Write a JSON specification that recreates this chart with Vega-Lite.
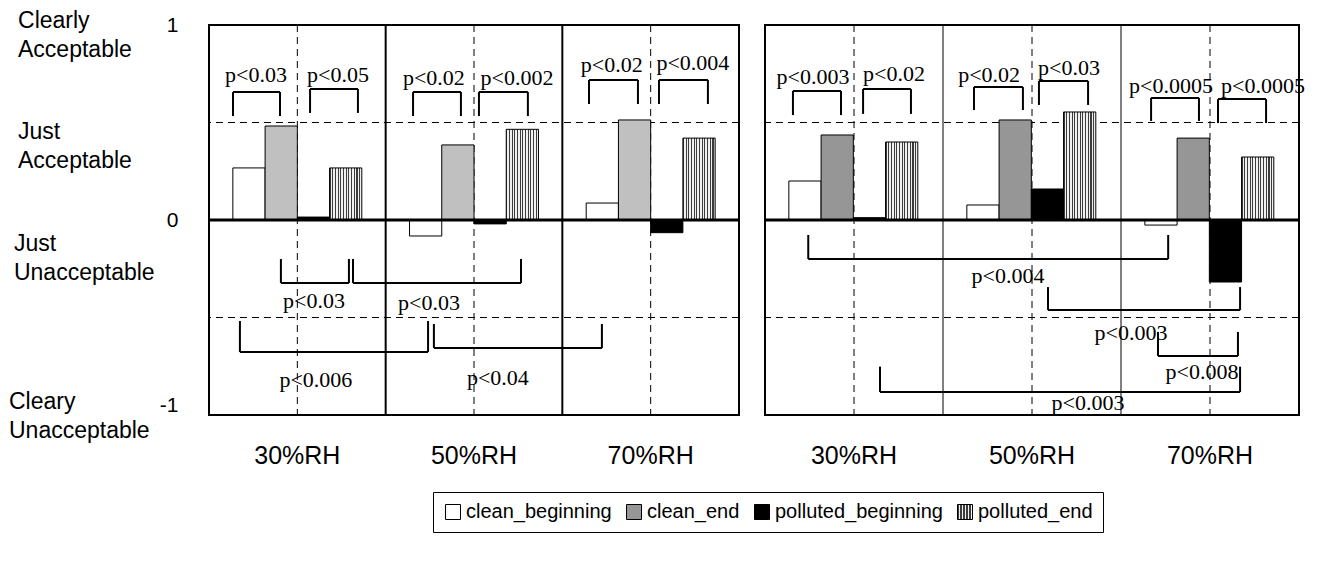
{
  "$schema": "https://vega.github.io/schema/vega-lite/v6.json",
  "background": "white",
  "padding": {"left": 8, "top": 8, "right": 5, "bottom": 5},
  "autosize": {"type": "pad"},
  "config": {
    "view": {"stroke": "black", "strokeWidth": 2},
    "font": "Liberation Sans",
    "axis": {"labelColor": "black"}
  },
  "datasets": {
    "bars": [
      {"panel": "left", "group": "30%RH", "series": "clean_beginning", "value": 0.267},
      {"panel": "left", "group": "30%RH", "series": "clean_end", "value": 0.482},
      {"panel": "left", "group": "30%RH", "series": "polluted_beginning", "value": 0.015},
      {"panel": "left", "group": "30%RH", "series": "polluted_end", "value": 0.267},
      {"panel": "left", "group": "50%RH", "series": "clean_beginning", "value": -0.082},
      {"panel": "left", "group": "50%RH", "series": "clean_end", "value": 0.385},
      {"panel": "left", "group": "50%RH", "series": "polluted_beginning", "value": -0.02},
      {"panel": "left", "group": "50%RH", "series": "polluted_end", "value": 0.465},
      {"panel": "left", "group": "70%RH", "series": "clean_beginning", "value": 0.087},
      {"panel": "left", "group": "70%RH", "series": "clean_end", "value": 0.513},
      {"panel": "left", "group": "70%RH", "series": "polluted_beginning", "value": -0.065},
      {"panel": "left", "group": "70%RH", "series": "polluted_end", "value": 0.42},
      {"panel": "right", "group": "30%RH", "series": "clean_beginning", "value": 0.2},
      {"panel": "right", "group": "30%RH", "series": "clean_end", "value": 0.436},
      {"panel": "right", "group": "30%RH", "series": "polluted_beginning", "value": 0.012},
      {"panel": "right", "group": "30%RH", "series": "polluted_end", "value": 0.4},
      {"panel": "right", "group": "50%RH", "series": "clean_beginning", "value": 0.077},
      {"panel": "right", "group": "50%RH", "series": "clean_end", "value": 0.513},
      {"panel": "right", "group": "50%RH", "series": "polluted_beginning", "value": 0.159},
      {"panel": "right", "group": "50%RH", "series": "polluted_end", "value": 0.554},
      {"panel": "right", "group": "70%RH", "series": "clean_beginning", "value": -0.026},
      {"panel": "right", "group": "70%RH", "series": "clean_end", "value": 0.42},
      {"panel": "right", "group": "70%RH", "series": "polluted_beginning", "value": -0.318},
      {"panel": "right", "group": "70%RH", "series": "polluted_end", "value": 0.323}
    ],
    "brackets": [
      {"panel": "left", "x1": 0.136, "x2": 0.402, "yh": 0.656, "ye": 0.533},
      {"panel": "left", "x1": 0.572, "x2": 0.843, "yh": 0.672, "ye": 0.549},
      {"panel": "left", "x1": 1.155, "x2": 1.426, "yh": 0.656, "ye": 0.533},
      {"panel": "left", "x1": 1.528, "x2": 1.805, "yh": 0.656, "ye": 0.533},
      {"panel": "left", "x1": 2.151, "x2": 2.428, "yh": 0.718, "ye": 0.595},
      {"panel": "left", "x1": 2.547, "x2": 2.824, "yh": 0.718, "ye": 0.595},
      {"panel": "left", "x1": 0.407, "x2": 0.792, "yh": -0.323, "ye": -0.2},
      {"panel": "left", "x1": 0.815, "x2": 1.766, "yh": -0.323, "ye": -0.2},
      {"panel": "left", "x1": 0.175, "x2": 1.24, "yh": -0.677, "ye": -0.518},
      {"panel": "left", "x1": 1.273, "x2": 2.224, "yh": -0.656, "ye": -0.533},
      {"panel": "right", "x1": 0.157, "x2": 0.427, "yh": 0.662, "ye": 0.538},
      {"panel": "right", "x1": 0.551, "x2": 0.82, "yh": 0.672, "ye": 0.544},
      {"panel": "right", "x1": 1.174, "x2": 1.449, "yh": 0.682, "ye": 0.564},
      {"panel": "right", "x1": 1.539, "x2": 1.815, "yh": 0.713, "ye": 0.59},
      {"panel": "right", "x1": 2.169, "x2": 2.438, "yh": 0.626, "ye": 0.508},
      {"panel": "right", "x1": 2.545, "x2": 2.815, "yh": 0.62, "ye": 0.497},
      {"panel": "right", "x1": 0.243, "x2": 2.265, "yh": -0.2, "ye": -0.077},
      {"panel": "right", "x1": 1.59, "x2": 2.669, "yh": -0.462, "ye": -0.344},
      {"panel": "right", "x1": 2.208, "x2": 2.657, "yh": -0.697, "ye": -0.574},
      {"panel": "right", "x1": 0.646, "x2": 2.669, "yh": -0.882, "ye": -0.752}
    ],
    "ptext": [
      {"panel": "left", "x": 0.266, "y": 0.744, "label": "p<0.03"},
      {"panel": "left", "x": 0.73, "y": 0.744, "label": "p<0.05"},
      {"panel": "left", "x": 1.273, "y": 0.728, "label": "p<0.02"},
      {"panel": "left", "x": 1.743, "y": 0.728, "label": "p<0.002"},
      {"panel": "left", "x": 2.28, "y": 0.795, "label": "p<0.02"},
      {"panel": "left", "x": 2.739, "y": 0.805, "label": "p<0.004"},
      {"panel": "left", "x": 0.594, "y": -0.415, "label": "p<0.03"},
      {"panel": "left", "x": 1.245, "y": -0.425, "label": "p<0.03"},
      {"panel": "left", "x": 0.605, "y": -0.82, "label": "p<0.006"},
      {"panel": "left", "x": 1.635, "y": -0.81, "label": "p<0.04"},
      {"panel": "right", "x": 0.27, "y": 0.733, "label": "p<0.003"},
      {"panel": "right", "x": 0.725, "y": 0.749, "label": "p<0.02"},
      {"panel": "right", "x": 1.259, "y": 0.744, "label": "p<0.02"},
      {"panel": "right", "x": 1.708, "y": 0.78, "label": "p<0.03"},
      {"panel": "right", "x": 2.281, "y": 0.687, "label": "p<0.0005"},
      {"panel": "right", "x": 2.798, "y": 0.687, "label": "p<0.0005"},
      {"panel": "right", "x": 1.365, "y": -0.287, "label": "p<0.004"},
      {"panel": "right", "x": 2.056, "y": -0.579, "label": "p<0.003"},
      {"panel": "right", "x": 2.455, "y": -0.779, "label": "p<0.008"},
      {"panel": "right", "x": 1.815, "y": -0.938, "label": "p<0.003"}
    ],
    "ylabels": [
      {"x": -1.081, "y": 1.021, "label": "Clearly\nAcceptable"},
      {"x": -1.081, "y": 0.451, "label": "Just\nAcceptable"},
      {"x": -1.104, "y": -0.123, "label": "Just\nUnacceptable"},
      {"x": -1.132, "y": -0.933, "label": "Cleary\nUnacceptable"}
    ]
  },
  "spacing": 20,
  "hconcat": [
    {
      "width": 530,
      "height": 390,
      "resolve": {"scale": {"x": "independent"}},
      "layer": [
        {
          "layer": [
            {
              "data": {"values": [{"v": 0.5}, {"v": 1.5}, {"v": 2.5}]},
              "mark": {"type": "rule", "stroke": "black", "strokeWidth": 1, "strokeDash": [7, 5]},
              "encoding": {"x": {"field": "v", "type": "quantitative", "scale": {"domain": [0, 3], "nice": false, "zero": false}, "axis": null, "title": null}}
            },
            {
              "data": {"values": [{"v": 1}, {"v": 2}]},
              "mark": {"type": "rule", "stroke": "black", "strokeWidth": 2},
              "encoding": {"x": {"field": "v", "type": "quantitative", "scale": {"domain": [0, 3], "nice": false, "zero": false}, "axis": null, "title": null}}
            },
            {
              "data": {"values": [{"v": 0.5}, {"v": -0.5}]},
              "mark": {"type": "rule", "stroke": "black", "strokeWidth": 1, "strokeDash": [7, 5]},
              "encoding": {"y": {"field": "v", "type": "quantitative", "scale": {"domain": [-1, 1], "nice": false, "zero": false}, "axis": {"values": [-1, 0, 1], "labelExpr": "'' + datum.value", "labelBaseline": {"condition": {"test": "datum.value == -1", "value": "bottom"}, "value": "middle"}, "labelFontSize": 21, "labelPadding": 31, "ticks": false, "tickSize": 0, "domain": false, "grid": false, "labelFont": "Liberation Sans", "labelColor": "black", "title": null}, "title": null}}
            }
          ]
        },
        {
          "data": {"name": "bars"},
          "transform": [{"filter": "datum.panel === 'left'"}],
          "mark": {"type": "bar", "stroke": "black", "strokeWidth": 1},
          "encoding": {
            "x": {"field": "group", "type": "nominal", "scale": {"paddingInner": 0, "paddingOuter": 0}, "axis": {"labelAngle": 0, "labelFontSize": 25, "labelPadding": 28, "ticks": false, "tickSize": 0, "domain": false, "grid": false, "labelColor": "black", "labelFont": "Liberation Sans", "title": null}, "title": null},
            "xOffset": {"field": "series", "type": "nominal", "scale": {"paddingInner": 0, "paddingOuter": 0.74}},
            "y": {"field": "value", "type": "quantitative", "scale": {"domain": [-1, 1], "nice": false, "zero": false}, "axis": {"values": [-1, 0, 1], "labelExpr": "'' + datum.value", "labelBaseline": {"condition": {"test": "datum.value == -1", "value": "bottom"}, "value": "middle"}, "labelFontSize": 21, "labelPadding": 31, "ticks": false, "tickSize": 0, "domain": false, "grid": false, "labelFont": "Liberation Sans", "labelColor": "black", "title": null}, "title": null},
            "fill": {
              "condition": [
                {"test": "datum.series === 'polluted_end'", "value": {"gradient": "linear", "stops": [
                  {"offset": 0, "color": "#3c3c3c"}, {"offset": 0.0333, "color": "#3c3c3c"}, {"offset": 0.0333, "color": "#f0f0f0"}, {"offset": 0.0833, "color": "#f0f0f0"},
                  {"offset": 0.0833, "color": "#3c3c3c"}, {"offset": 0.1167, "color": "#3c3c3c"}, {"offset": 0.1167, "color": "#f0f0f0"}, {"offset": 0.1667, "color": "#f0f0f0"},
                  {"offset": 0.1667, "color": "#3c3c3c"}, {"offset": 0.2, "color": "#3c3c3c"}, {"offset": 0.2, "color": "#f0f0f0"}, {"offset": 0.25, "color": "#f0f0f0"},
                  {"offset": 0.25, "color": "#3c3c3c"}, {"offset": 0.2833, "color": "#3c3c3c"}, {"offset": 0.2833, "color": "#f0f0f0"}, {"offset": 0.3333, "color": "#f0f0f0"},
                  {"offset": 0.3333, "color": "#3c3c3c"}, {"offset": 0.3667, "color": "#3c3c3c"}, {"offset": 0.3667, "color": "#f0f0f0"}, {"offset": 0.4167, "color": "#f0f0f0"},
                  {"offset": 0.4167, "color": "#3c3c3c"}, {"offset": 0.45, "color": "#3c3c3c"}, {"offset": 0.45, "color": "#f0f0f0"}, {"offset": 0.5, "color": "#f0f0f0"},
                  {"offset": 0.5, "color": "#3c3c3c"}, {"offset": 0.5333, "color": "#3c3c3c"}, {"offset": 0.5333, "color": "#f0f0f0"}, {"offset": 0.5833, "color": "#f0f0f0"},
                  {"offset": 0.5833, "color": "#3c3c3c"}, {"offset": 0.6167, "color": "#3c3c3c"}, {"offset": 0.6167, "color": "#f0f0f0"}, {"offset": 0.6667, "color": "#f0f0f0"},
                  {"offset": 0.6667, "color": "#3c3c3c"}, {"offset": 0.7, "color": "#3c3c3c"}, {"offset": 0.7, "color": "#f0f0f0"}, {"offset": 0.75, "color": "#f0f0f0"},
                  {"offset": 0.75, "color": "#3c3c3c"}, {"offset": 0.7833, "color": "#3c3c3c"}, {"offset": 0.7833, "color": "#f0f0f0"}, {"offset": 0.8333, "color": "#f0f0f0"},
                  {"offset": 0.8333, "color": "#3c3c3c"}, {"offset": 0.8667, "color": "#3c3c3c"}, {"offset": 0.8667, "color": "#f0f0f0"}, {"offset": 0.9167, "color": "#f0f0f0"},
                  {"offset": 0.9167, "color": "#3c3c3c"}, {"offset": 0.95, "color": "#3c3c3c"}, {"offset": 0.95, "color": "#f0f0f0"}, {"offset": 1, "color": "#f0f0f0"}
                ]}},
                {"test": "datum.series === 'clean_end'", "value": "#c0c0c0"}
              ],
              "field": "series",
              "type": "nominal",
              "scale": {"domain": ["clean_beginning", "clean_end", "polluted_beginning", "polluted_end"], "range": ["#ffffff", "#969696", "#000000", {"expr": "{gradient: 'linear', stops: [{offset: 0, color: '#3c3c3c'}, {offset: 0.1, color: '#3c3c3c'}, {offset: 0.1, color: '#f0f0f0'}, {offset: 0.2, color: '#f0f0f0'}, {offset: 0.2, color: '#3c3c3c'}, {offset: 0.3, color: '#3c3c3c'}, {offset: 0.3, color: '#f0f0f0'}, {offset: 0.4, color: '#f0f0f0'}, {offset: 0.4, color: '#3c3c3c'}, {offset: 0.5, color: '#3c3c3c'}, {offset: 0.5, color: '#f0f0f0'}, {offset: 0.6, color: '#f0f0f0'}, {offset: 0.6, color: '#3c3c3c'}, {offset: 0.7, color: '#3c3c3c'}, {offset: 0.7, color: '#f0f0f0'}, {offset: 0.8, color: '#f0f0f0'}, {offset: 0.8, color: '#3c3c3c'}, {offset: 0.9, color: '#3c3c3c'}, {offset: 0.9, color: '#f0f0f0'}, {offset: 1, color: '#f0f0f0'}]}"}]},
              "legend": {
                "orient": "none", "legendX": 224, "legendY": 467, "direction": "horizontal", "columns": 4, "title": null,
                "symbolType": "square", "symbolSize": 225, "symbolStrokeColor": "black", "symbolStrokeWidth": 1,
                "labelFont": "Liberation Sans", "labelFontSize": 20, "labelColor": "black", "labelLimit": 400, "labelOffset": 3,
                "columnPadding": 12, "padding": 10, "strokeColor": "black", "fillColor": "white"
              }
            }
          }
        },
        {
          "layer": [
            {
              "data": {"values": [{"v": 0}]},
              "mark": {"type": "rule", "stroke": "black", "strokeWidth": 3},
              "encoding": {"y": {"field": "v", "type": "quantitative", "scale": {"domain": [-1, 1], "nice": false, "zero": false}, "axis": {"values": [-1, 0, 1], "labelExpr": "'' + datum.value", "labelBaseline": {"condition": {"test": "datum.value == -1", "value": "bottom"}, "value": "middle"}, "labelFontSize": 21, "labelPadding": 31, "ticks": false, "tickSize": 0, "domain": false, "grid": false, "labelFont": "Liberation Sans", "labelColor": "black", "title": null}, "title": null}}
            },
            {
              "data": {"name": "brackets"},
              "transform": [{"filter": "datum.panel === 'left'"}],
              "mark": {"type": "rule", "stroke": "black", "strokeWidth": 2},
              "encoding": {
                "x": {"field": "x1", "type": "quantitative", "scale": {"domain": [0, 3], "nice": false, "zero": false}, "axis": null, "title": null},
                "x2": {"field": "x2"},
                "y": {"field": "yh", "type": "quantitative", "scale": {"domain": [-1, 1], "nice": false, "zero": false}, "axis": {"values": [-1, 0, 1], "labelExpr": "'' + datum.value", "labelBaseline": {"condition": {"test": "datum.value == -1", "value": "bottom"}, "value": "middle"}, "labelFontSize": 21, "labelPadding": 31, "ticks": false, "tickSize": 0, "domain": false, "grid": false, "labelFont": "Liberation Sans", "labelColor": "black", "title": null}, "title": null}
              }
            },
            {
              "data": {"name": "brackets"},
              "transform": [{"filter": "datum.panel === 'left'"}],
              "mark": {"type": "rule", "stroke": "black", "strokeWidth": 2},
              "encoding": {
                "x": {"field": "x1", "type": "quantitative", "scale": {"domain": [0, 3], "nice": false, "zero": false}, "axis": null, "title": null},
                "y": {"field": "yh", "type": "quantitative", "scale": {"domain": [-1, 1], "nice": false, "zero": false}, "axis": {"values": [-1, 0, 1], "labelExpr": "'' + datum.value", "labelBaseline": {"condition": {"test": "datum.value == -1", "value": "bottom"}, "value": "middle"}, "labelFontSize": 21, "labelPadding": 31, "ticks": false, "tickSize": 0, "domain": false, "grid": false, "labelFont": "Liberation Sans", "labelColor": "black", "title": null}, "title": null},
                "y2": {"field": "ye"}
              }
            },
            {
              "data": {"name": "brackets"},
              "transform": [{"filter": "datum.panel === 'left'"}],
              "mark": {"type": "rule", "stroke": "black", "strokeWidth": 2},
              "encoding": {
                "x": {"field": "x2", "type": "quantitative", "scale": {"domain": [0, 3], "nice": false, "zero": false}, "axis": null, "title": null},
                "y": {"field": "yh", "type": "quantitative", "scale": {"domain": [-1, 1], "nice": false, "zero": false}, "axis": {"values": [-1, 0, 1], "labelExpr": "'' + datum.value", "labelBaseline": {"condition": {"test": "datum.value == -1", "value": "bottom"}, "value": "middle"}, "labelFontSize": 21, "labelPadding": 31, "ticks": false, "tickSize": 0, "domain": false, "grid": false, "labelFont": "Liberation Sans", "labelColor": "black", "title": null}, "title": null},
                "y2": {"field": "ye"}
              }
            },
            {
              "data": {"name": "ptext"},
              "transform": [{"filter": "datum.panel === 'left'"}],
              "mark": {"type": "text", "font": "Liberation Serif", "fontSize": 22, "align": "center", "baseline": "middle", "color": "black"},
              "encoding": {
                "x": {"field": "x", "type": "quantitative", "scale": {"domain": [0, 3], "nice": false, "zero": false}, "axis": null, "title": null},
                "y": {"field": "y", "type": "quantitative", "scale": {"domain": [-1, 1], "nice": false, "zero": false}, "axis": {"values": [-1, 0, 1], "labelExpr": "'' + datum.value", "labelBaseline": {"condition": {"test": "datum.value == -1", "value": "bottom"}, "value": "middle"}, "labelFontSize": 21, "labelPadding": 31, "ticks": false, "tickSize": 0, "domain": false, "grid": false, "labelFont": "Liberation Sans", "labelColor": "black", "title": null}, "title": null},
                "text": {"field": "label", "type": "nominal"}
              }
            },
            {
              "data": {"name": "ylabels"},
              "mark": {"type": "text", "font": "Liberation Sans", "fontSize": 23, "align": "left", "baseline": "middle", "lineBreak": "\n", "lineHeight": 29, "color": "black"},
              "encoding": {
                "x": {"field": "x", "type": "quantitative", "scale": {"domain": [0, 3], "nice": false, "zero": false}, "axis": null, "title": null},
                "y": {"field": "y", "type": "quantitative", "scale": {"domain": [-1, 1], "nice": false, "zero": false}, "axis": {"values": [-1, 0, 1], "labelExpr": "'' + datum.value", "labelBaseline": {"condition": {"test": "datum.value == -1", "value": "bottom"}, "value": "middle"}, "labelFontSize": 21, "labelPadding": 31, "ticks": false, "tickSize": 0, "domain": false, "grid": false, "labelFont": "Liberation Sans", "labelColor": "black", "title": null}, "title": null},
                "text": {"field": "label", "type": "nominal"}
              }
            }
          ]
        }
      ]
    },
    {
      "width": 534,
      "height": 390,
      "resolve": {"scale": {"x": "independent"}},
      "layer": [
        {
          "layer": [
            {
              "data": {"values": [{"v": 0.5}, {"v": 1.5}, {"v": 2.5}]},
              "mark": {"type": "rule", "stroke": "black", "strokeWidth": 1, "strokeDash": [7, 5]},
              "encoding": {"x": {"field": "v", "type": "quantitative", "scale": {"domain": [0, 3], "nice": false, "zero": false}, "axis": null, "title": null}}
            },
            {
              "data": {"values": [{"v": 1}, {"v": 2}]},
              "mark": {"type": "rule", "stroke": "black", "strokeWidth": 1},
              "encoding": {"x": {"field": "v", "type": "quantitative", "scale": {"domain": [0, 3], "nice": false, "zero": false}, "axis": null, "title": null}}
            },
            {
              "data": {"values": [{"v": 0.5}, {"v": -0.5}]},
              "mark": {"type": "rule", "stroke": "black", "strokeWidth": 1, "strokeDash": [7, 5]},
              "encoding": {"y": {"field": "v", "type": "quantitative", "scale": {"domain": [-1, 1], "nice": false, "zero": false}, "axis": null, "title": null}}
            }
          ]
        },
        {
          "data": {"name": "bars"},
          "transform": [{"filter": "datum.panel === 'right'"}],
          "mark": {"type": "bar", "stroke": "black", "strokeWidth": 1},
          "encoding": {
            "x": {"field": "group", "type": "nominal", "scale": {"paddingInner": 0, "paddingOuter": 0}, "axis": {"labelAngle": 0, "labelFontSize": 25, "labelPadding": 28, "ticks": false, "tickSize": 0, "domain": false, "grid": false, "labelColor": "black", "labelFont": "Liberation Sans", "title": null}, "title": null},
            "xOffset": {"field": "series", "type": "nominal", "scale": {"paddingInner": 0, "paddingOuter": 0.74}},
            "y": {"field": "value", "type": "quantitative", "scale": {"domain": [-1, 1], "nice": false, "zero": false}, "axis": null, "title": null},
            "fill": {
              "condition": [
                {"test": "datum.series === 'polluted_end'", "value": {"gradient": "linear", "stops": [
                  {"offset": 0, "color": "#3c3c3c"}, {"offset": 0.0333, "color": "#3c3c3c"}, {"offset": 0.0333, "color": "#f0f0f0"}, {"offset": 0.0833, "color": "#f0f0f0"},
                  {"offset": 0.0833, "color": "#3c3c3c"}, {"offset": 0.1167, "color": "#3c3c3c"}, {"offset": 0.1167, "color": "#f0f0f0"}, {"offset": 0.1667, "color": "#f0f0f0"},
                  {"offset": 0.1667, "color": "#3c3c3c"}, {"offset": 0.2, "color": "#3c3c3c"}, {"offset": 0.2, "color": "#f0f0f0"}, {"offset": 0.25, "color": "#f0f0f0"},
                  {"offset": 0.25, "color": "#3c3c3c"}, {"offset": 0.2833, "color": "#3c3c3c"}, {"offset": 0.2833, "color": "#f0f0f0"}, {"offset": 0.3333, "color": "#f0f0f0"},
                  {"offset": 0.3333, "color": "#3c3c3c"}, {"offset": 0.3667, "color": "#3c3c3c"}, {"offset": 0.3667, "color": "#f0f0f0"}, {"offset": 0.4167, "color": "#f0f0f0"},
                  {"offset": 0.4167, "color": "#3c3c3c"}, {"offset": 0.45, "color": "#3c3c3c"}, {"offset": 0.45, "color": "#f0f0f0"}, {"offset": 0.5, "color": "#f0f0f0"},
                  {"offset": 0.5, "color": "#3c3c3c"}, {"offset": 0.5333, "color": "#3c3c3c"}, {"offset": 0.5333, "color": "#f0f0f0"}, {"offset": 0.5833, "color": "#f0f0f0"},
                  {"offset": 0.5833, "color": "#3c3c3c"}, {"offset": 0.6167, "color": "#3c3c3c"}, {"offset": 0.6167, "color": "#f0f0f0"}, {"offset": 0.6667, "color": "#f0f0f0"},
                  {"offset": 0.6667, "color": "#3c3c3c"}, {"offset": 0.7, "color": "#3c3c3c"}, {"offset": 0.7, "color": "#f0f0f0"}, {"offset": 0.75, "color": "#f0f0f0"},
                  {"offset": 0.75, "color": "#3c3c3c"}, {"offset": 0.7833, "color": "#3c3c3c"}, {"offset": 0.7833, "color": "#f0f0f0"}, {"offset": 0.8333, "color": "#f0f0f0"},
                  {"offset": 0.8333, "color": "#3c3c3c"}, {"offset": 0.8667, "color": "#3c3c3c"}, {"offset": 0.8667, "color": "#f0f0f0"}, {"offset": 0.9167, "color": "#f0f0f0"},
                  {"offset": 0.9167, "color": "#3c3c3c"}, {"offset": 0.95, "color": "#3c3c3c"}, {"offset": 0.95, "color": "#f0f0f0"}, {"offset": 1, "color": "#f0f0f0"}
                ]}}
              ],
              "field": "series",
              "type": "nominal",
              "scale": {"domain": ["clean_beginning", "clean_end", "polluted_beginning", "polluted_end"], "range": ["#ffffff", "#969696", "#000000", {"expr": "{gradient: 'linear', stops: [{offset: 0, color: '#3c3c3c'}, {offset: 0.1, color: '#3c3c3c'}, {offset: 0.1, color: '#f0f0f0'}, {offset: 0.2, color: '#f0f0f0'}, {offset: 0.2, color: '#3c3c3c'}, {offset: 0.3, color: '#3c3c3c'}, {offset: 0.3, color: '#f0f0f0'}, {offset: 0.4, color: '#f0f0f0'}, {offset: 0.4, color: '#3c3c3c'}, {offset: 0.5, color: '#3c3c3c'}, {offset: 0.5, color: '#f0f0f0'}, {offset: 0.6, color: '#f0f0f0'}, {offset: 0.6, color: '#3c3c3c'}, {offset: 0.7, color: '#3c3c3c'}, {offset: 0.7, color: '#f0f0f0'}, {offset: 0.8, color: '#f0f0f0'}, {offset: 0.8, color: '#3c3c3c'}, {offset: 0.9, color: '#3c3c3c'}, {offset: 0.9, color: '#f0f0f0'}, {offset: 1, color: '#f0f0f0'}]}"}]},
              "legend": {
                "orient": "none", "legendX": 224, "legendY": 467, "direction": "horizontal", "columns": 4, "title": null,
                "symbolType": "square", "symbolSize": 225, "symbolStrokeColor": "black", "symbolStrokeWidth": 1,
                "labelFont": "Liberation Sans", "labelFontSize": 20, "labelColor": "black", "labelLimit": 400, "labelOffset": 3,
                "columnPadding": 12, "padding": 10, "strokeColor": "black", "fillColor": "white"
              }
            }
          }
        },
        {
          "layer": [
            {
              "data": {"values": [{"v": 0}]},
              "mark": {"type": "rule", "stroke": "black", "strokeWidth": 3},
              "encoding": {"y": {"field": "v", "type": "quantitative", "scale": {"domain": [-1, 1], "nice": false, "zero": false}, "axis": null, "title": null}}
            },
            {
              "data": {"name": "brackets"},
              "transform": [{"filter": "datum.panel === 'right'"}],
              "mark": {"type": "rule", "stroke": "black", "strokeWidth": 2},
              "encoding": {
                "x": {"field": "x1", "type": "quantitative", "scale": {"domain": [0, 3], "nice": false, "zero": false}, "axis": null, "title": null},
                "x2": {"field": "x2"},
                "y": {"field": "yh", "type": "quantitative", "scale": {"domain": [-1, 1], "nice": false, "zero": false}, "axis": null, "title": null}
              }
            },
            {
              "data": {"name": "brackets"},
              "transform": [{"filter": "datum.panel === 'right'"}],
              "mark": {"type": "rule", "stroke": "black", "strokeWidth": 2},
              "encoding": {
                "x": {"field": "x1", "type": "quantitative", "scale": {"domain": [0, 3], "nice": false, "zero": false}, "axis": null, "title": null},
                "y": {"field": "yh", "type": "quantitative", "scale": {"domain": [-1, 1], "nice": false, "zero": false}, "axis": null, "title": null},
                "y2": {"field": "ye"}
              }
            },
            {
              "data": {"name": "brackets"},
              "transform": [{"filter": "datum.panel === 'right'"}],
              "mark": {"type": "rule", "stroke": "black", "strokeWidth": 2},
              "encoding": {
                "x": {"field": "x2", "type": "quantitative", "scale": {"domain": [0, 3], "nice": false, "zero": false}, "axis": null, "title": null},
                "y": {"field": "yh", "type": "quantitative", "scale": {"domain": [-1, 1], "nice": false, "zero": false}, "axis": null, "title": null},
                "y2": {"field": "ye"}
              }
            },
            {
              "data": {"name": "ptext"},
              "transform": [{"filter": "datum.panel === 'right'"}],
              "mark": {"type": "text", "font": "Liberation Serif", "fontSize": 22, "align": "center", "baseline": "middle", "color": "black"},
              "encoding": {
                "x": {"field": "x", "type": "quantitative", "scale": {"domain": [0, 3], "nice": false, "zero": false}, "axis": null, "title": null},
                "y": {"field": "y", "type": "quantitative", "scale": {"domain": [-1, 1], "nice": false, "zero": false}, "axis": null, "title": null},
                "text": {"field": "label", "type": "nominal"}
              }
            }
          ]
        }
      ]
    }
  ]
}
